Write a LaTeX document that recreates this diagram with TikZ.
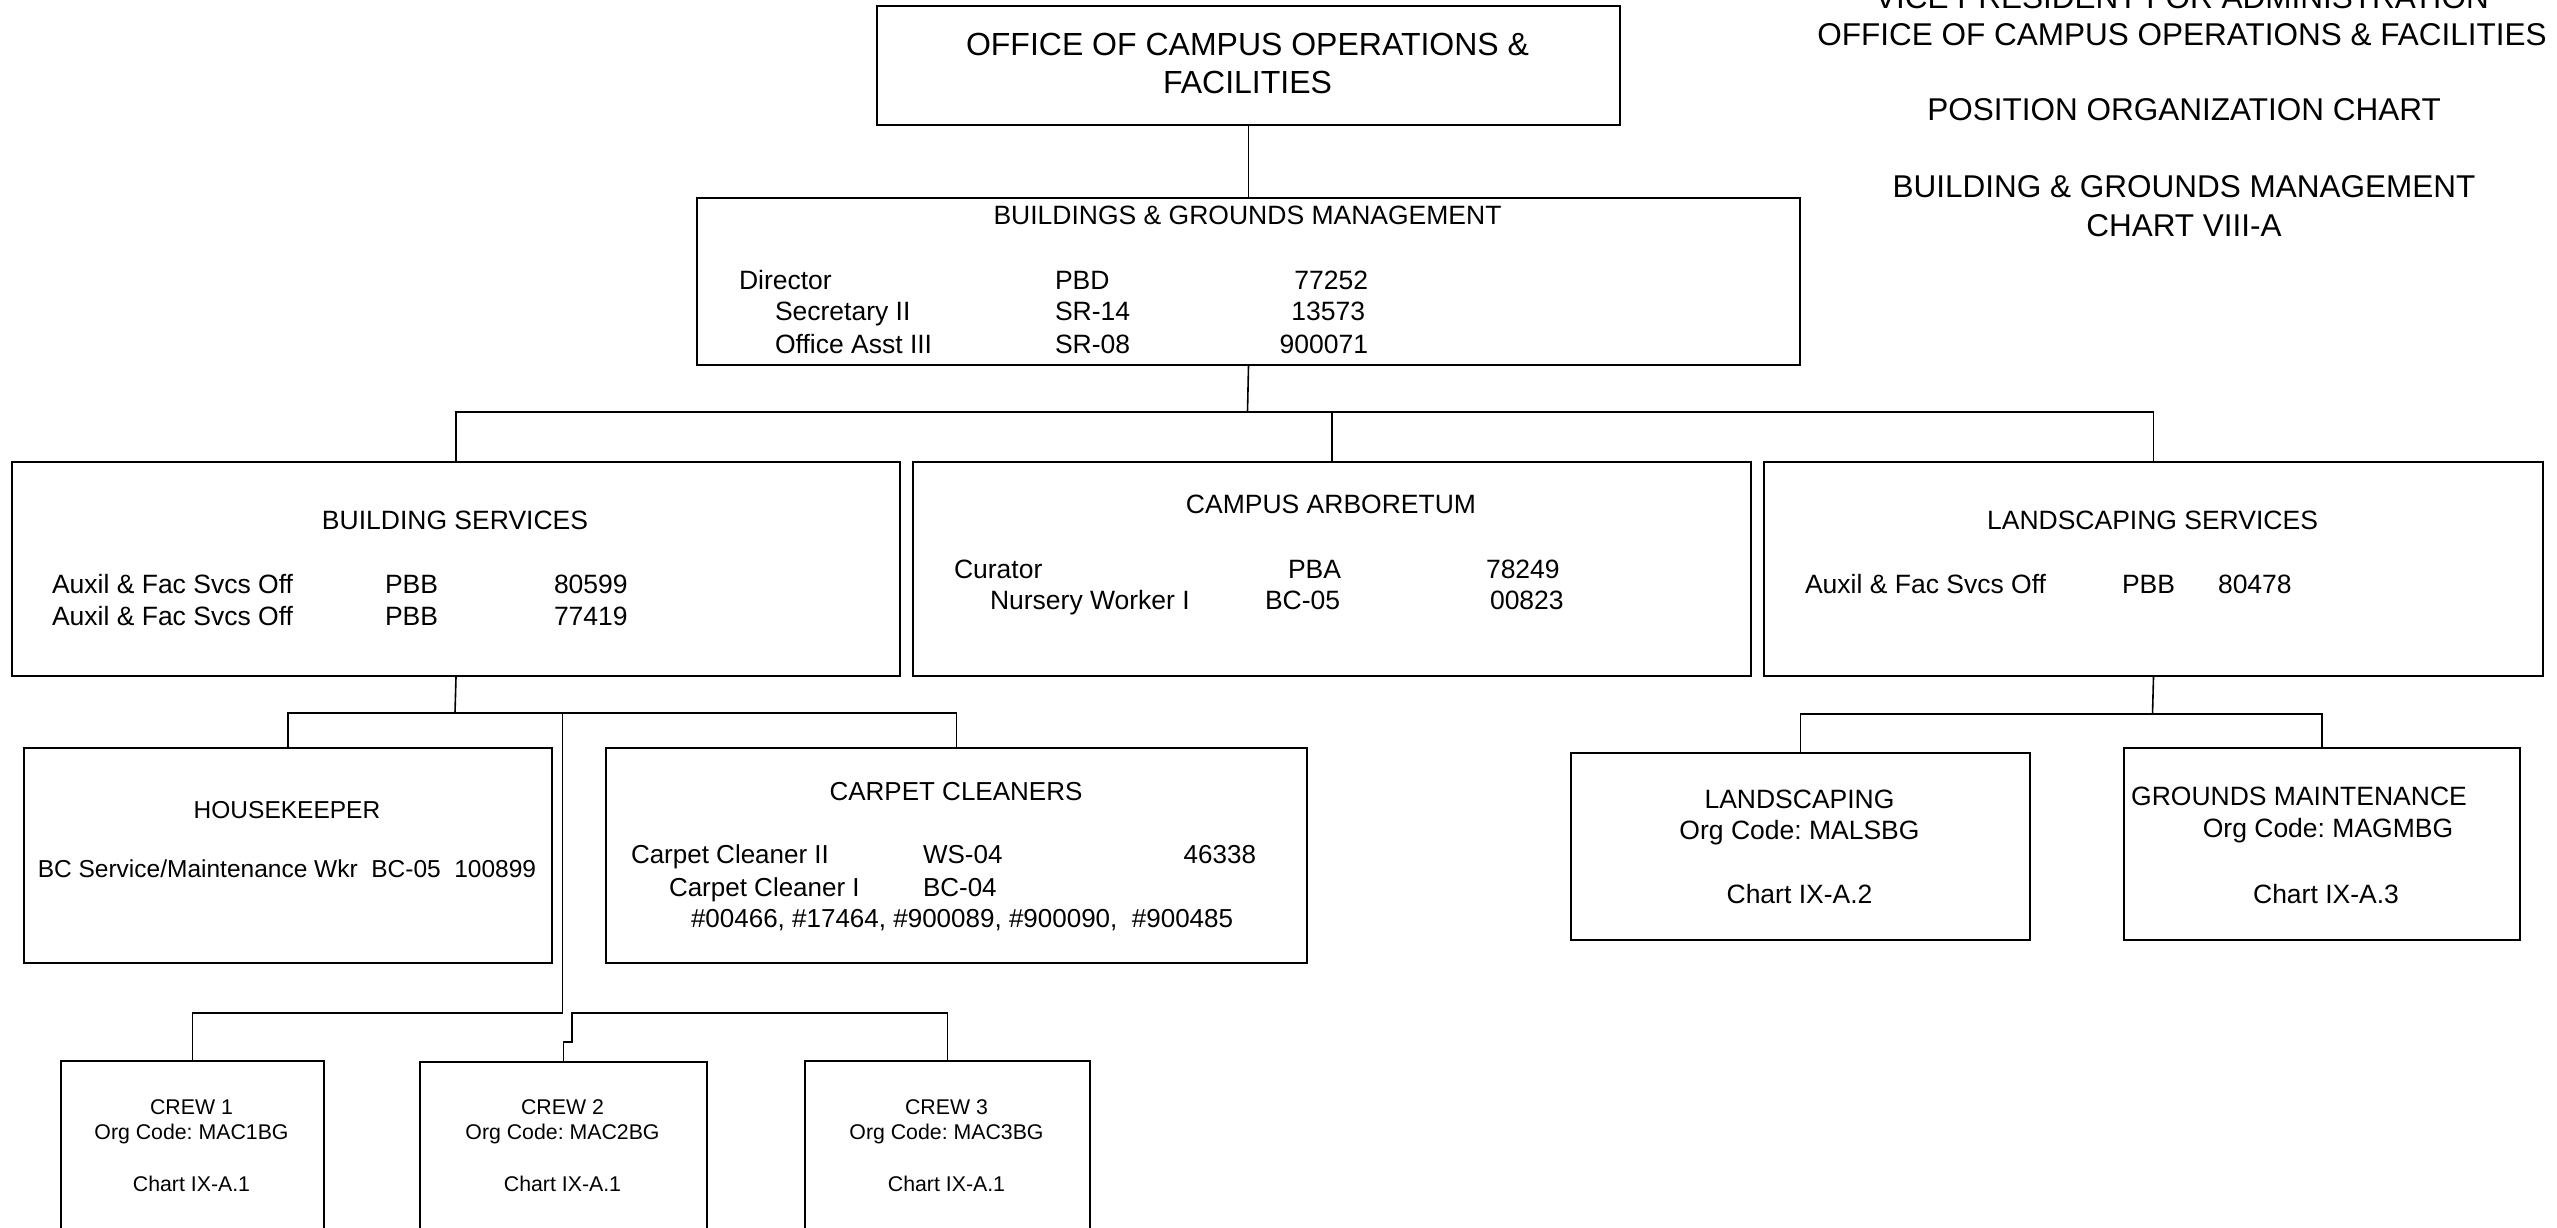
\documentclass[tikz,border=0pt]{standalone}
\usepackage{fontspec}
\setmainfont{Liberation Sans}
\frenchspacing
\begin{document}
\begin{tikzpicture}[x=1pt,y=-1pt,
  box/.style={draw, line width=2pt, inner sep=0pt, anchor=north west},
  conn/.style={line width=1.6pt},
  t/.style={inner sep=0pt, outer sep=0pt, text depth=0pt},
  fT/.style={t, font=\fontsize{32}{36}\selectfont, text height=22.9pt},
  fR/.style={t, font=\fontsize{31.5}{36}\selectfont, text height=22.6pt},
  fM/.style={t, font=\fontsize{26.5}{30}\selectfont, text height=19pt},
  fK/.style={t, font=\fontsize{26}{30}\selectfont, text height=18.6pt},
  fH/.style={t, font=\fontsize{24.5}{28}\selectfont, text height=17.5pt},
  fC/.style={t, font=\fontsize{21.3}{25}\selectfont, text height=15.25pt}]
\useasboundingbox (0,0) rectangle (2557,1227);
\clip (0,0) rectangle (2557,1227);
\fill[white] (0,0) rectangle (2557,1227);

% ---- header on the right
\node[fR] (h0) at (2182,-3) {VICE PRESIDENT FOR ADMINISTRATION};
\node[fR] (h1) at (2182,34) {OFFICE OF CAMPUS OPERATIONS \& FACILITIES};
\node[fR] (h2) at (2184,109) {POSITION ORGANIZATION CHART};
\node[fR] (h3) at (2184,186) {BUILDING \& GROUNDS MANAGEMENT};
\node[fR] (h4) at (2184,225) {CHART VIII-A};

% ---- boxes
\node[box, minimum width=743pt, minimum height=119pt] (top) at (876,5) {};
\node[box, minimum width=1103pt, minimum height=167pt] (bgm) at (696,197) {};
\node[box, minimum width=888pt, minimum height=214pt] (bs) at (11,461) {};
\node[box, minimum width=838pt, minimum height=214pt] (ca) at (912,461) {};
\node[box, minimum width=779pt, minimum height=214pt] (ls) at (1763,461) {};
\node[box, minimum width=528pt, minimum height=215pt] (hk) at (23,747) {};
\node[box, minimum width=701pt, minimum height=215pt] (cc) at (605,747) {};
\node[box, minimum width=459pt, minimum height=187pt] (lsc) at (1570,752) {};
\node[box, minimum width=396pt, minimum height=192pt] (gm) at (2123,747) {};
\node[box, minimum width=263pt, minimum height=220pt] (c1) at (60,1060) {};
\node[box, minimum width=287pt, minimum height=220pt] (c2) at (419,1061) {};
\node[box, minimum width=285pt, minimum height=220pt] (c3) at (804,1060) {};

% ---- connectors
\coordinate (busA) at (1247.5,412);
\coordinate (busB) at (455,713);
\coordinate (busC) at (562.5,713);
\coordinate (crewJ) at (562.5,1013);
\coordinate (busD) at (2152.5,714);
\draw[conn] (top.south) -- (bgm.north);
\draw[conn] (bgm.south) -- (busA);
\draw[conn] (bs.north) |- (ls.north |- busA) -- (ls.north);
\draw[conn] (ca.north) -- (ca.north |- busA);
\draw[conn] (bs.south) -- (busB);
\draw[conn] (hk.north) |- (cc.north |- busB) -- (cc.north);
\draw[conn] (busC) -- (crewJ) -| (c1.north);
\draw[conn] (c2.north) -- ++(0,-19) -- ++(8.5,0) |- (c3.north |- crewJ) -- (c3.north);
\draw[conn] (ls.south) -- (busD);
\draw[conn] (lsc.north) |- (gm.north |- busD) -- (gm.north);

% ---- top box text
\node[fT] (t1) at (1247.5,44) {OFFICE OF CAMPUS OPERATIONS \&};
\node[fT] (t2) at (1247.5,82) {FACILITIES};

% ---- BGM
\node[fM] (g0) at (1247.5,215) {BUILDINGS \& GROUNDS MANAGEMENT};
\node[fM, anchor=west] (g1a) at (739,280) {Director};
\node[fM, anchor=west] (g1b) at (1055,280) {PBD};
\node[fM, anchor=east] (g1c) at (1368,280) {77252};
\node[fM, anchor=west] (g2a) at (775,311) {Secretary II};
\node[fM, anchor=west] (g2b) at (1055,311) {SR-14};
\node[fM, anchor=east] (g2c) at (1365,311) {13573};
\node[fM, anchor=west] (g3a) at (775,344) {Office Asst III};
\node[fM, anchor=west] (g3b) at (1055,344) {SR-08};
\node[fM, anchor=east] (g3c) at (1368,344) {900071};

% ---- Building services
\node[fM] (b0) at (455,520) {BUILDING SERVICES};
\node[fM, anchor=west] (b1a) at (52,584) {Auxil \& Fac Svcs Off};
\node[fM, anchor=west] (b1b) at (385,584) {PBB};
\node[fM, anchor=west] (b1c) at (554,584) {80599};
\node[fM, anchor=west] (b2a) at (52,616) {Auxil \& Fac Svcs Off};
\node[fM, anchor=west] (b2b) at (385,616) {PBB};
\node[fM, anchor=west] (b2c) at (554,616) {77419};

% ---- Campus arboretum
\node[fM] (a0) at (1331,504) {CAMPUS ARBORETUM};
\node[fM, anchor=west] (a1a) at (954,569) {Curator};
\node[fM, anchor=west] (a1b) at (1288,569) {PBA};
\node[fM, anchor=west] (a1c) at (1486,569) {78249};
\node[fM, anchor=west] (a2a) at (990,600) {Nursery Worker I};
\node[fM, anchor=west] (a2b) at (1265,600) {BC-05};
\node[fM, anchor=west] (a2c) at (1490,600) {00823};

% ---- Landscaping services
\node[fM] (l0) at (2152.5,520) {LANDSCAPING SERVICES};
\node[fM, anchor=west] (l1a) at (1805,584) {Auxil \& Fac Svcs Off};
\node[fM, anchor=west] (l1b) at (2122,584) {PBB};
\node[fM, anchor=west] (l1c) at (2218,584) {80478};

% ---- Housekeeper
\node[fH] (k0) at (287,810) {HOUSEKEEPER};
\node[fH] (k1) at (287,869) {BC Service/Maintenance Wkr\ \ BC-05\ \ 100899};

% ---- Carpet cleaners
\node[fK] (p0) at (956,791) {CARPET CLEANERS};
\node[fK, anchor=west] (p1a) at (631,854) {Carpet Cleaner II};
\node[fK, anchor=west] (p1b) at (923,854) {WS-04};
\node[fK, anchor=east] (p1c) at (1256,854) {46338};
\node[fK, anchor=west] (p2a) at (669,887) {Carpet Cleaner I};
\node[fK, anchor=west] (p2b) at (923,887) {BC-04};
\node[fK, anchor=west] (p3) at (691,918) {\#00466, \#17464, \#900089, \#900090,\ \ \#900485};

% ---- Landscaping / Grounds maintenance
\node[fM] (s0) at (1799.5,799) {LANDSCAPING};
\node[fM] (s1) at (1799.5,830) {Org Code: MALSBG};
\node[fM] (s2) at (1799.5,894) {Chart IX-A.2};
\node[fM] (m0) at (2299,796) {GROUNDS MAINTENANCE};
\node[fM] (m1) at (2328,828) {Org Code: MAGMBG};
\node[fM] (m2) at (2326,894) {Chart IX-A.3};

% ---- Crews
\node[fC] (r1a) at (191.5,1107) {CREW 1};
\node[fC] (r1b) at (191.5,1132) {Org Code: MAC1BG};
\node[fC] (r1c) at (191.5,1184) {Chart IX-A.1};
\node[fC] (r2a) at (562.5,1107) {CREW 2};
\node[fC] (r2b) at (562.5,1132) {Org Code: MAC2BG};
\node[fC] (r2c) at (562.5,1184) {Chart IX-A.1};
\node[fC] (r3a) at (946.5,1107) {CREW 3};
\node[fC] (r3b) at (946.5,1132) {Org Code: MAC3BG};
\node[fC] (r3c) at (946.5,1184) {Chart IX-A.1};
\end{tikzpicture}
\end{document}
